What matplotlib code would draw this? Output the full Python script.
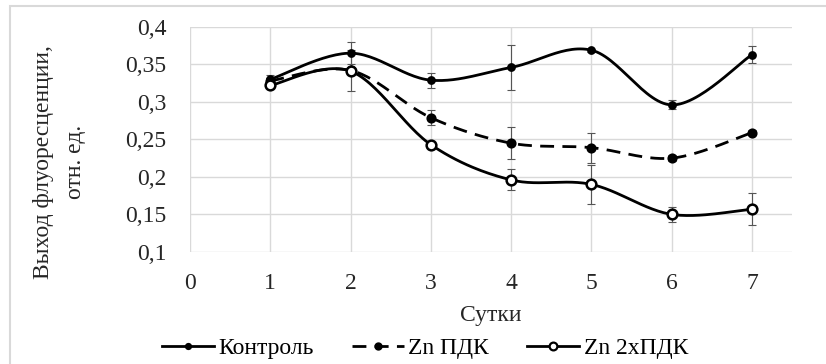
import numpy as np
import matplotlib
matplotlib.use("Agg")
import matplotlib.pyplot as plt
from matplotlib.patches import Rectangle

days = [1, 2, 3, 4, 5, 6, 7]
control = [0.330, 0.365, 0.329, 0.346, 0.369, 0.296, 0.363]
control_err = [0.006, 0.015, 0.010, 0.030, 0.002, 0.006, 0.011]
zn_pdk = [0.328, 0.342, 0.279, 0.245, 0.239, 0.225, 0.259]
zn_pdk_err = [0.004, 0.027, 0.010, 0.021, 0.020, 0.004, 0.003]
zn_2pdk = [0.322, 0.341, 0.243, 0.196, 0.190, 0.150, 0.157]
zn_2pdk_err = [0.004, 0.004, 0.003, 0.014, 0.026, 0.010, 0.021]

labels = ["Контроль", "Zn ПДК", "Zn 2xПДК"]
xticks = [0, 1, 2, 3, 4, 5, 6, 7]
yticks = [0.1, 0.15, 0.2, 0.25, 0.3, 0.35, 0.4]
ytick_labels = ["0,1", "0,15", "0,2", "0,25", "0,3", "0,35", "0,4"]

plt.rcParams['font.family'] = ['Liberation Serif', 'DejaVu Serif']
FS = 17


def smooth(x, y, n=30):
    x = np.asarray(x, float); y = np.asarray(y, float)
    P = np.column_stack([x, y])
    out = []
    t = 1.0 / 6.0
    for i in range(len(P) - 1):
        p0 = P[i - 1] if i > 0 else P[i]
        p1 = P[i]; p2 = P[i + 1]
        p3 = P[i + 2] if i + 2 < len(P) else P[i + 1]
        c1 = p1 + (p2 - p0) * t
        c2 = p2 - (p3 - p1) * t
        s = np.linspace(0, 1, n)[:, None]
        seg = ((1 - s) ** 3) * p1 + 3 * ((1 - s) ** 2) * s * c1 + 3 * (1 - s) * s ** 2 * c2 + s ** 3 * p2
        out.append(seg if i == 0 else seg[1:])
    seg = np.vstack(out)
    return seg[:, 0], seg[:, 1]


fig = plt.figure(figsize=(8.26, 3.64), dpi=100)
ax = fig.add_axes([0.230, 0.308, 0.729, 0.618])

fig.patches.append(Rectangle((0.012, -0.02), 1.0, 1.0035, transform=fig.transFigure,
                             fill=False, edgecolor='#d9d9d9', linewidth=1.5))

series = [
    (control, control_err, '-', 'o', 'black', 4.5),
    (zn_pdk, zn_pdk_err, (0, (5, 3)), 'o', 'black', 5.5),
    (zn_2pdk, zn_2pdk_err, '-', 'o', 'white', 7.0),
]
for (vals, errs, ls, mk, mfc, ms), lab in zip(series, labels):
    sx, sy = smooth(days, vals)
    ax.plot(sx, sy, color='black', lw=2.0, linestyle=ls, zorder=3)
    ax.errorbar(days, vals, yerr=errs, fmt='none', ecolor='#555555', elinewidth=0.8,
                capsize=3, capthick=0.8, zorder=2)
    ax.plot(days, vals, linestyle='none', marker=mk, markersize=ms, markerfacecolor=mfc,
            markeredgecolor='black', markeredgewidth=1.8, zorder=4)

handles = []
for (vals, errs, ls, mk, mfc, ms), lab in zip(series, labels):
    h, = ax.plot([], [], color='black', lw=2.0, linestyle=ls, marker=mk,
                 markersize=ms * 0.8, markerfacecolor=mfc, markeredgecolor='black',
                 markeredgewidth=1.6, label=lab)
    handles.append(h)

ax.set_xlim(0, 7.5)
ax.set_ylim(0.1, 0.4)
ax.set_xticks(xticks)
ax.set_xticklabels([str(v) for v in xticks])
ax.set_yticks(yticks)
ax.set_yticklabels(ytick_labels)
ax.tick_params(length=0, labelsize=FS, colors='#262626')
ax.tick_params(axis='x', pad=15)
ax.tick_params(axis='y', pad=17)
ax.grid(True, color='#d9d9d9', lw=1.0)
ax.set_axisbelow(True)
for s in ax.spines.values():
    s.set_visible(False)

fig.text(0.594, 1 - 315 / 364, "Сутки", ha='center', va='center', fontsize=FS, color='#262626')
fig.text(44 / 826, 1 - 162 / 364, "Выход флуоресценции,", rotation=90, ha='center', va='center',
         fontsize=FS, color='#262626')
fig.text(76 / 826, 1 - 162 / 364, "отн. ед.", rotation=90, ha='center', va='center',
         fontsize=FS, color='#262626')

fig.legend(handles=handles, loc='center', bbox_to_anchor=(425 / 826, 1 - 348 / 364), ncol=3,
           frameon=False, fontsize=FS, handlelength=2.2, columnspacing=1.6, handletextpad=0.2,
           borderpad=0, borderaxespad=0)

fig.savefig("out.png", dpi=100)
